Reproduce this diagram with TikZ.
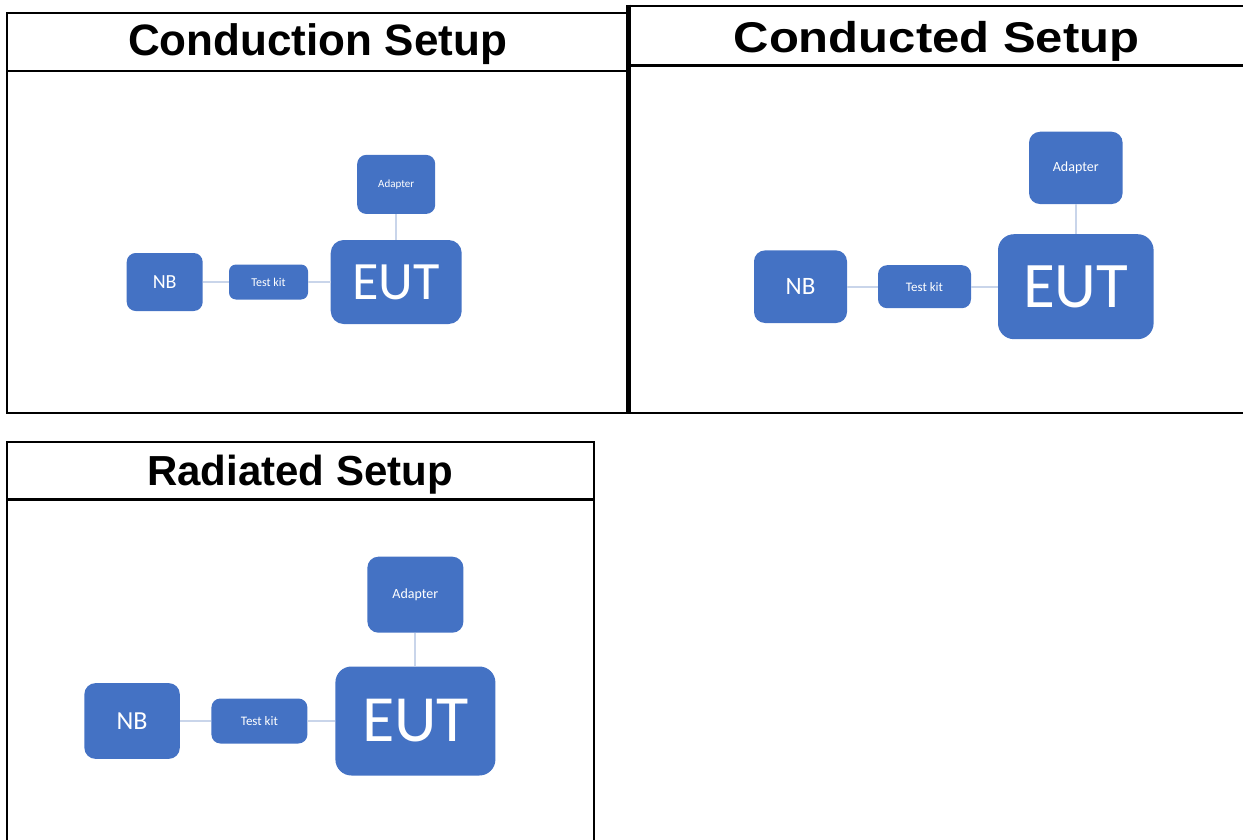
\documentclass[tikz,border=0pt]{standalone}
\usepackage{fontspec}
\usepackage{graphicx}
\setmainfont{Liberation Sans}
\newfontfamily\boxfont{Carlito}
\newcommand{\fsz}[1]{\fontsize{#1}{#1}\selectfont}
\definecolor{unitblue}{HTML}{4472C4}
\definecolor{linkgrey}{HTML}{C9D5EA}
\tikzset{
  frame/.style={line width=2pt},
  heading/.style={font=\bfseries, anchor=base, inner sep=0pt},
  unit/.style={fill=unitblue, text=white, inner sep=0pt, rounded corners=9pt, font=\boxfont},
  bigunit/.style={unit, rounded corners=13pt},
  link/.style={draw=linkgrey, line width=2pt},
}
\begin{document}
\begin{tikzpicture}[x=1pt,y=-1pt]
\useasboundingbox (0,0) rectangle (1243,840);

% Conduction (links boven)
\begin{scope}
\draw[frame] (628,13.3) -- (7,13.3) -- (7,412.5) -- (628,412.5);
\draw[frame] (7,71) -- (628,71);
\node[heading] (title1) at (317.5,56) {\fsz{44}Conduction Setup};
\node[unit, minimum width=76pt, minimum height=58pt] (nb1) at (164.7,282) {\fsz{20}NB};
\node[unit, rounded corners=7pt, minimum width=79pt, minimum height=35pt] (kit1) at (268.5,282) {\fsz{12}Test kit};
\node[bigunit, minimum width=131pt, minimum height=84pt] (eut1) at (396.2,282) {\fsz{54}EUT};
\node[unit, minimum width=78pt, minimum height=59pt] (adp1) at (396.2,184.4) {\fsz{11}Adapter};
\draw[link] (nb1) -- (kit1);
\draw[link] (kit1) -- (eut1);
\draw[link] (adp1) -- (eut1);
\end{scope}

% Conducted (rechts boven)
\begin{scope}
\draw[frame] (1243,5.7) -- (628,5.7);
\draw[line width=5pt] (628,4.7) -- (628,413.5);
\draw[frame] (628,412.5) -- (1243,412.5);
\draw[line width=2.5pt] (628,65.7) -- (1243,65.7);
\node[heading] (title2) at (936.5,53) {\fsz{43}\scalebox{1.14}[1]{Conducted Setup}};
\node[unit, rounded corners=11pt, minimum width=93pt, minimum height=72.6pt] (nb2) at (800.5,286.7) {\fsz{25}NB};
\node[unit, minimum width=93pt, minimum height=43pt] (kit2) at (924.5,286.7) {\fsz{13}Test kit};
\node[bigunit, rounded corners=16pt, minimum width=155.6pt, minimum height=105pt] (eut2) at (1075.8,286.7) {\fsz{65}EUT};
\node[unit, rounded corners=11pt, minimum width=93.6pt, minimum height=72.3pt] (adp2) at (1075.8,167.9) {\fsz{14}Adapter};
\draw[link] (nb2) -- (kit2);
\draw[link] (kit2) -- (eut2);
\draw[link] (adp2) -- (eut2);
\end{scope}

% Radiated (links onder)
\begin{scope}
\draw[frame] (7,841) -- (7,442) -- (593.5,442) -- (593.5,841);
\draw[line width=2.5pt] (7,499.5) -- (593.5,499.5);
\node[heading] (title3) at (300,485) {\fsz{42}Radiated Setup};
\node[unit, rounded corners=11pt, minimum width=95.4pt, minimum height=75.7pt] (nb3) at (132.1,721) {\fsz{26}NB};
\node[unit, minimum width=96pt, minimum height=45pt] (kit3) at (259.4,721) {\fsz{13}Test kit};
\node[bigunit, rounded corners=16pt, minimum width=160pt, minimum height=109pt] (eut3) at (415.4,721) {\fsz{66}EUT};
\node[unit, rounded corners=11pt, minimum width=96pt, minimum height=76pt] (adp3) at (415.4,594.7) {\fsz{14}Adapter};
\draw[link] (nb3) -- (kit3);
\draw[link] (kit3) -- (eut3);
\draw[link] (adp3) -- (eut3);
\end{scope}
\end{tikzpicture}
\end{document}
